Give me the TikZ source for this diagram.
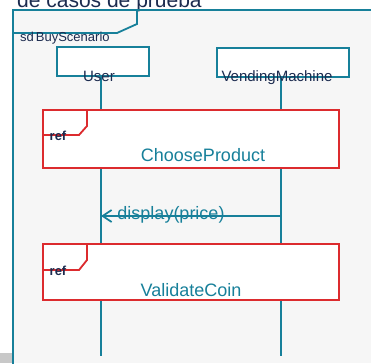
\documentclass[tikz,border=0pt]{standalone}
\usepackage{fontspec}
\setmainfont{Liberation Sans}
\usetikzlibrary{arrows.meta}
\definecolor{seqteal}{HTML}{17809A}
\definecolor{seqred}{HTML}{DC2B2E}
\definecolor{seqnavy}{HTML}{1C2B4F}
\definecolor{seqback}{HTML}{F6F6F6}
\definecolor{seqgray}{HTML}{C8C8C8}
\tikzset{
	lifebox/.style={draw=seqteal, line width=1.8pt, fill=white, inner sep=0pt},
	refbox/.style={draw=seqred, line width=1.8pt, fill=white, inner sep=0pt},
	lifetext/.style={text=seqnavy, font=\fontsize{15}{16}\selectfont, anchor=base, inner sep=0pt},
	reftext/.style={text=seqteal, font=\fontsize{18}{19}\selectfont, anchor=base, inner sep=0pt},
	tagtext/.style={text=seqnavy, font=\fontsize{13}{14}\selectfont\bfseries, anchor=base west, inner sep=0pt}
}

\begin{document}
\begin{tikzpicture}[x=1pt, y=-1pt]
			\useasboundingbox (0,0) rectangle (371,363);
			\fill[white] (0,0) rectangle (371,363);
			\fill[seqback] (13,10) rectangle (371,363);
			\fill[seqgray] (0,353) rectangle (12.2,363);
			\node[text=seqnavy, font=\fontsize{21}{22}\selectfont, anchor=base west, inner sep=0pt] (title) at (17,8) {de casos de prueba};
			% frame
			\draw[seqteal, line width=1.8pt] (13,364) -- (13,10) -- (372,10);
			\draw[seqteal, line width=1.8pt] (137,10) -- (137,24) -- (117,33) -- (13,33);
			\node[text=seqnavy, font=\fontsize{13}{14}\selectfont, anchor=base west, inner sep=0pt] (sdname) at (20,41.5) {sd\hspace{2pt}BuyScenario};
			% lifelines
			\node[shape=coordinate] (usertop) at (100.7,76) {};
			\node[shape=coordinate] (userbot) at (100.7,356) {};
			\node[shape=coordinate] (vmtop) at (281,77) {};
			\node[shape=coordinate] (vmbot) at (281,356) {};
			\draw[seqteal, line width=1.8pt] (usertop) -- (userbot);
			\draw[seqteal, line width=1.8pt] (vmtop) -- (vmbot);
			\node[lifebox, minimum width=92pt, minimum height=29pt] (userhead) at (103,61.5) {};
			\node[lifebox, minimum width=132pt, minimum height=29pt] (vmhead) at (283,62.5) {};
			\node[lifetext] (userlabel) at (99,81.5) {User};
			\node[lifetext] (vmlabel) at (277,81.5) {VendingMachine};
			% message
			\node[shape=coordinate] (msgvm) at (281,216) {};
			\node[shape=coordinate] (msguser) at (101,216) {};
			\node[text=seqteal, font=\fontsize{18}{19}\selectfont, anchor=base, inner sep=0pt] (msglabel) at (171,219.5) {display(price)};
			\draw[seqteal, line width=1.8pt, -{Straight Barb[length=9pt, width=12pt]}] (msgvm) -- (msguser);
			% interaction uses
			\node[refbox, minimum width=296pt, minimum height=58pt] (choose) at (191,139) {};
			\draw[seqred, line width=1.8pt] (87,110) -- (87,126) -- (79,135) -- (43,135);
			\node[tagtext] (chooseref) at (49.5,140.5) {ref};
			\node[reftext] (choosename) at (203,162) {ChooseProduct};
			\node[refbox, minimum width=296pt, minimum height=56pt] (validate) at (191,272) {};
			\draw[seqred, line width=1.8pt] (87,244) -- (87,260) -- (79,270) -- (43,270);
			\node[tagtext] (validateref) at (49.5,275) {ref};
			\node[reftext] (validatename) at (191,296) {ValidateCoin};
		\end{tikzpicture}
\end{document}
